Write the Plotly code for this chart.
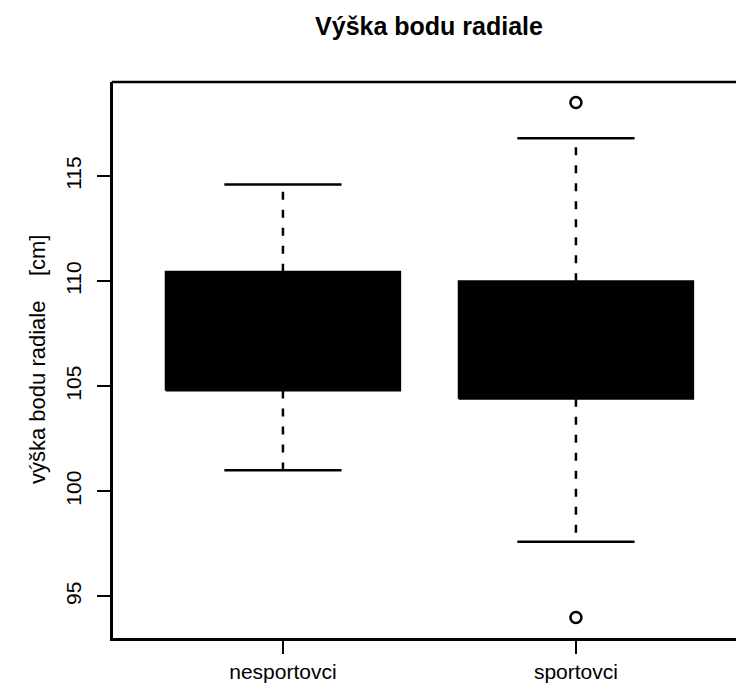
import plotly.graph_objects as go

# ---- data ----
groups = ["nesportovci", "sportovci"]
positions = [1, 2]
lower_whisker = [101.0, 97.6]
q1 = [104.8, 104.4]
median = [107.6, 107.2]
q3 = [110.45, 110.0]
upper_whisker = [114.6, 116.8]
outliers = [[], [118.5, 94.0]]
y_ticks = [95, 100, 105, 110, 115]

BOX_HALF = 0.4
CAP_HALF = 0.2
FONT = "Liberation Sans, Arial, Helvetica, sans-serif"

fig = go.Figure()

for i, x in enumerate(positions):
    # whiskers (dashed)
    fig.add_trace(go.Scatter(
        x=[x, x, None, x, x],
        y=[q3[i], upper_whisker[i], None, q1[i], lower_whisker[i]],
        mode="lines", line=dict(color="black", width=2.5, dash="8px,10px"),
        hoverinfo="skip", showlegend=False))
    # caps
    fig.add_trace(go.Scatter(
        x=[x - CAP_HALF, x + CAP_HALF, None, x - CAP_HALF, x + CAP_HALF],
        y=[upper_whisker[i], upper_whisker[i], None, lower_whisker[i], lower_whisker[i]],
        mode="lines", line=dict(color="black", width=2.5),
        hoverinfo="skip", showlegend=False))
    # box (filled black)
    fig.add_trace(go.Scatter(
        x=[x - BOX_HALF, x + BOX_HALF, x + BOX_HALF, x - BOX_HALF, x - BOX_HALF],
        y=[q1[i], q1[i], q3[i], q3[i], q1[i]],
        mode="lines", fill="toself", fillcolor="black",
        line=dict(color="black", width=2),
        hoverinfo="skip", showlegend=False))
    # median
    fig.add_trace(go.Scatter(
        x=[x - BOX_HALF, x + BOX_HALF], y=[median[i], median[i]],
        mode="lines", line=dict(color="black", width=4),
        hoverinfo="skip", showlegend=False))
    # outliers
    if outliers[i]:
        fig.add_trace(go.Scatter(
            x=[x] * len(outliers[i]), y=outliers[i], mode="markers",
            marker=dict(symbol="circle-open", size=11, color="black",
                        line=dict(width=2.5, color="black")),
            hoverinfo="skip", showlegend=False))

fig.update_layout(
    width=736, height=689,
    margin=dict(l=113, r=0, t=82, b=51),
    paper_bgcolor="white", plot_bgcolor="white",
    font=dict(family=FONT, color="black", size=21),
    title=dict(text="<b>Výška bodu radiale</b>", x=429 / 736, xref="container",
               xanchor="center", y=1 - 26 / 689, yref="container", yanchor="middle",
               font=dict(family=FONT, size=25, color="black")),
    xaxis=dict(range=[0.42, 0.42 + 623 / 293], tickvals=positions, ticktext=groups,
               showline=True, linecolor="black", linewidth=2.5,
               ticks="outside", ticklen=13, tickwidth=2, tickcolor="black",
               showgrid=False, zeroline=False, tickfont=dict(size=21)),
    yaxis=dict(range=[93.02, 119.48], tickvals=y_ticks,
               showline=True, linecolor="black", linewidth=2.5,
               ticks="outside", ticklen=13, tickwidth=2, tickcolor="black",
               showgrid=False, zeroline=False, tickangle=-90, tickfont=dict(size=21),
               ticklabelstandoff=8),
    shapes=[dict(type="line", xref="paper", yref="paper", x0=-0.002, x1=1, y0=1, y1=1,
                 line=dict(color="black", width=2.5))],
    annotations=[dict(text="výška bodu radiale\u00a0\u00a0\u00a0\u00a0[cm]",
                      xref="paper", yref="paper", x=(37 - 113) / 623, y=0.5,
                      xanchor="center", yanchor="middle", textangle=-90,
                      showarrow=False, font=dict(family=FONT, size=22, color="black"))],
)

fig.write_html("out.html")
